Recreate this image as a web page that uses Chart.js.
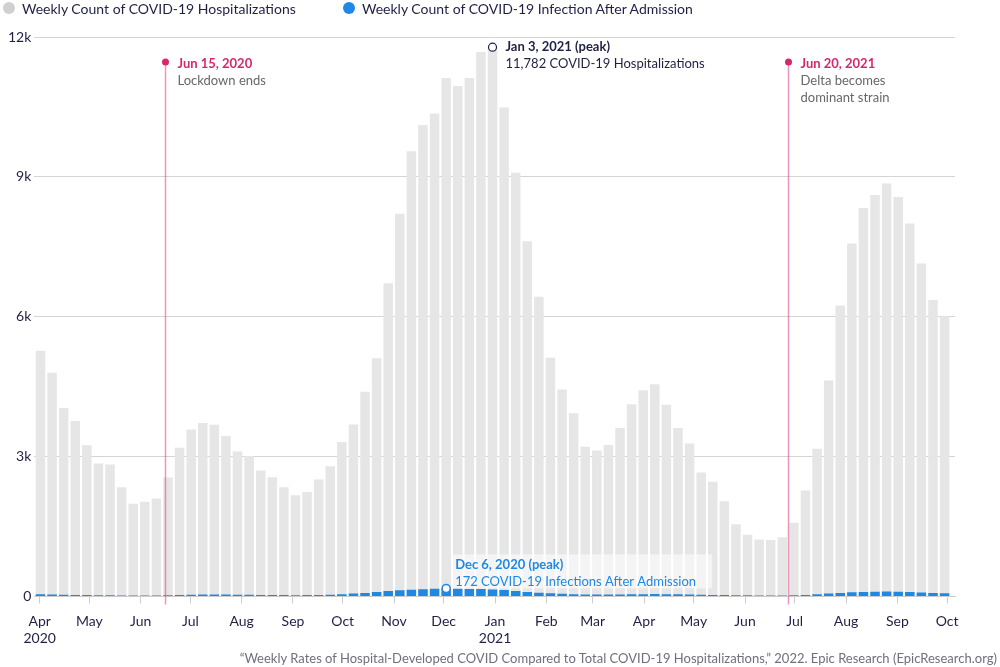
<!DOCTYPE html>
<html>
<head>
<meta charset="utf-8">
<script src="https://cdn.jsdelivr.net/npm/chart.js@4.4.0/dist/chart.umd.min.js"></script>
<style>
  body { margin: 0; background: #fff; font-family: Lato, "Noto Sans", sans-serif; }
  #wrap { position: relative; width: 1000px; height: 667px; overflow: hidden; }
  #legend { position: absolute; left: 0; top: 0; height: 17px; font-size: 14px; color: #1f2044; }
  #legend .item { position: absolute; top: 0; white-space: nowrap; line-height: 17px; }
  #legend .dot { position: absolute; top: 2px; width: 12px; height: 12px; border-radius: 50%; }
  #source { position: absolute; right: 3px; top: 650px; font-size: 13px; color: #6f6f7f; white-space: nowrap; }
</style>
</head>
<body>
<div id="wrap">
  <canvas id="chart" width="1000" height="667"></canvas>
  <div id="legend"></div>
  <div id="source">“Weekly Rates of Hospital-Developed COVID Compared to Total COVID-19 Hospitalizations,” 2022. Epic Research (EpicResearch.org)</div>
</div>
<script>
// weekly data, one value per week (week ending on the given Sunday)
const firstWeek = "2020-04-05";
const hospitalizations = [
    5270, 4800, 4040, 3760, 3240, 2850, 2830, 2340, 1990, 2030,
    2100, 2550, 3190, 3580, 3720, 3680, 3440, 3110, 3010, 2700,
    2555, 2340, 2170, 2240, 2510, 2790, 3310, 3690, 4390, 5110,
    6720, 8210, 9550, 10110, 10360, 11120, 10950, 11120, 11680, 11782,
    10490, 9090, 7620, 6430, 5120, 4440, 3930, 3210, 3130, 3250,
    3610, 4120, 4420, 4550, 4110, 3610, 3280, 2660, 2460, 2040,
    1550, 1320, 1220, 1210, 1270, 1580, 2270, 3170, 4630, 6240,
    7570, 8330, 8610, 8860, 8570, 8000, 7140, 6360, 6010
];
const infections = [
    45, 40, 35, 30, 28, 25, 22, 20, 18, 18,
    20, 22, 28, 35, 40, 42, 40, 38, 35, 32,
    30, 28, 27, 28, 32, 38, 48, 60, 75, 95,
    115, 130, 145, 155, 162, 172, 165, 160, 158, 150,
    135, 115, 95, 80, 65, 55, 48, 42, 40, 40,
    42, 45, 48, 50, 48, 45, 40, 35, 32, 28,
    25, 22, 20, 20, 20, 25, 32, 45, 60, 75,
    88, 95, 100, 105, 100, 95, 85, 75, 70
];
const monthTicks = [
    "2020-04-01", "2020-05-01", "2020-06-01", "2020-07-01", "2020-08-01", "2020-09-01",
    "2020-10-01", "2020-11-01", "2020-12-01", "2021-01-01", "2021-02-01", "2021-03-01",
    "2021-04-01", "2021-05-01", "2021-06-01", "2021-07-01", "2021-08-01", "2021-09-01", "2021-10-01"
];
const monthLabels = [
    ["Apr", "2020"], "May", "Jun", "Jul", "Aug", "Sep", "Oct", "Nov", "Dec",
    ["Jan", "2021"], "Feb", "Mar", "Apr", "May", "Jun", "Jul", "Aug", "Sep", "Oct"
];
const yTicks = [0, 3000, 6000, 9000, 12000];
const events = [
    { at: "2020-06-16", title: "Jun 15, 2020", text: ["Lockdown ends"] },
    { at: "2021-06-27", title: "Jun 20, 2021", text: ["Delta becomes", "dominant strain"] }
];
const peakHosp = { week: "2021-01-03", title: "Jan 3, 2021 (peak)", text: "11,782 COVID-19 Hospitalizations" };
const peakInf = { week: "2020-12-06", title: "Dec 6, 2020 (peak)", text: "172 COVID-19 Infections After Admission" };

const GRAY = "#e6e6e6";
const BLUE = "#1e88e5";
const INK = "#1f2044";
const PINK = "#d6276c";

// days since Apr 1 2020
const origin = Date.UTC(2020, 3, 1);
function dayOf(s) {
    const p = s.split("-").map(Number);
    return (Date.UTC(p[0], p[1] - 1, p[2]) - origin) / 86400000;
}
const weeks = hospitalizations.map((_, i) => {
    const d = new Date(Date.UTC(2020, 3, 5) + i * 7 * 86400000);
    return d.toISOString().slice(0, 10);
});
// a bar covers the 7 days ending on its date
const weekMid = d => dayOf(d) - 3.5;

const notes = {
    id: "notes",
    afterDatasetsDraw(chart) {
        const { ctx, chartArea, scales: { x, y } } = chart;
        ctx.save();
        ctx.textBaseline = "middle";
        ctx.textAlign = "left";

        events.forEach(ev => {
            const px = Math.round(x.getPixelForValue(dayOf(ev.at))) + 0.5;
            const top = chartArea.top + 25;
            ctx.strokeStyle = "rgba(222, 80, 140, 0.6)";
            ctx.lineWidth = 1.5;
            ctx.beginPath();
            ctx.moveTo(px, top);
            ctx.lineTo(px, chartArea.bottom + 8);
            ctx.stroke();
            ctx.fillStyle = PINK;
            ctx.beginPath();
            ctx.arc(px, top, 3.5, 0, Math.PI * 2);
            ctx.fill();
            ctx.font = "bold 13px Lato";
            ctx.fillText(ev.title, px + 12, top + 2);
            ctx.fillStyle = "#676767";
            ctx.font = "13px Lato";
            ev.text.forEach((t, i) => ctx.fillText(t, px + 12, top + 19 + i * 17));
        });

        // hospitalization peak
        let i = weeks.indexOf(peakHosp.week);
        let cx = x.getPixelForValue(weekMid(peakHosp.week));
        let cy = y.getPixelForValue(hospitalizations[i]);
        ctx.fillStyle = "#fff";
        ctx.strokeStyle = INK;
        ctx.lineWidth = 1.2;
        ctx.beginPath();
        ctx.arc(cx, cy, 4, 0, Math.PI * 2);
        ctx.fill();
        ctx.stroke();
        ctx.fillStyle = INK;
        ctx.font = "bold 13px Lato";
        ctx.fillText(peakHosp.title, cx + 13, cy);
        ctx.font = "13px Lato";
        ctx.fillText(peakHosp.text, cx + 13, cy + 17);

        // infection peak
        i = weeks.indexOf(peakInf.week);
        cx = x.getPixelForValue(weekMid(peakInf.week));
        cy = y.getPixelForValue(infections[i]);
        const base = chartArea.bottom;
        ctx.fillStyle = "rgba(255, 255, 255, 0.55)";
        ctx.fillRect(cx + 5, base - 42, 261, 34);
        ctx.fillStyle = "#fff";
        ctx.strokeStyle = BLUE;
        ctx.lineWidth = 1.5;
        ctx.beginPath();
        ctx.arc(cx, cy, 4, 0, Math.PI * 2);
        ctx.fill();
        ctx.stroke();
        ctx.fillStyle = BLUE;
        ctx.font = "bold 13px Lato";
        ctx.fillText(peakInf.title, cx + 9, base - 32);
        ctx.font = "13px Lato";
        ctx.fillText(peakInf.text, cx + 9, base - 15);
        ctx.restore();
    }
};

const chart = new Chart(document.getElementById("chart"), {
    type: "bar",
    data: {
        datasets: [
            {
                label: "Weekly Count of COVID-19 Infection After Admission",
                data: weeks.map((d, i) => ({ x: weekMid(d), y: infections[i] })),
                backgroundColor: BLUE,
                legendColor: BLUE,
                order: 0
            },
            {
                label: "Weekly Count of COVID-19 Hospitalizations",
                data: weeks.map((d, i) => ({ x: weekMid(d), y: hospitalizations[i] })),
                backgroundColor: GRAY,
                legendColor: "#d0d0d0",
                order: 1
            }
        ]
    },
    options: {
        responsive: false,
        animation: false,
        devicePixelRatio: 1,
        grouped: false,
        barPercentage: 0.82,
        categoryPercentage: 1,
        layout: { padding: { top: 37, left: 5, right: 45, bottom: 10 } },
        plugins: { legend: { display: false }, tooltip: { enabled: false } },
        scales: {
            x: {
                type: "linear",
                min: -3.2,
                max: 552.8,
                offset: false,
                afterBuildTicks: scale => { scale.ticks = monthTicks.map(d => ({ value: dayOf(d) })); },
                grid: { offset: false, drawOnChartArea: false, tickLength: 7, color: "#cccccc" },
                border: { color: "#cccccc" },
                ticks: {
                    autoSkip: false,
                    maxRotation: 0,
                    padding: 10,
                    color: INK,
                    font: { family: "Lato", size: 14 },
                    callback: (v, i) => monthLabels[i]
                }
            },
            y: {
                min: 0,
                max: 12000,
                z: 1,
                afterBuildTicks: scale => { scale.ticks = yTicks.map(v => ({ value: v })); },
                grid: { drawTicks: false, color: c => c.tick && c.tick.value === 0 ? "rgba(0,0,0,0)" : "#d4d4d4" },
                border: { display: false },
                ticks: {
                    padding: 3,
                    color: INK,
                    font: { family: "Lato", size: 14 },
                    callback: v => v === 0 ? "0" : (v / 1000) + "k"
                }
            }
        }
    },
    plugins: [notes]
});

// legend, hospitalizations first as in the source
const legendPos = [3, 343];
const legend = document.getElementById("legend");
chart.data.datasets.slice().reverse().forEach((ds, i) => {
    const item = document.createElement("div");
    item.className = "item";
    item.style.left = legendPos[i] + "px";
    item.innerHTML = `<span class="dot" style="background:${ds.legendColor}"></span><span style="margin-left:19px">${ds.label}</span>`;
    legend.appendChild(item);
});
</script>
</body>
</html>
